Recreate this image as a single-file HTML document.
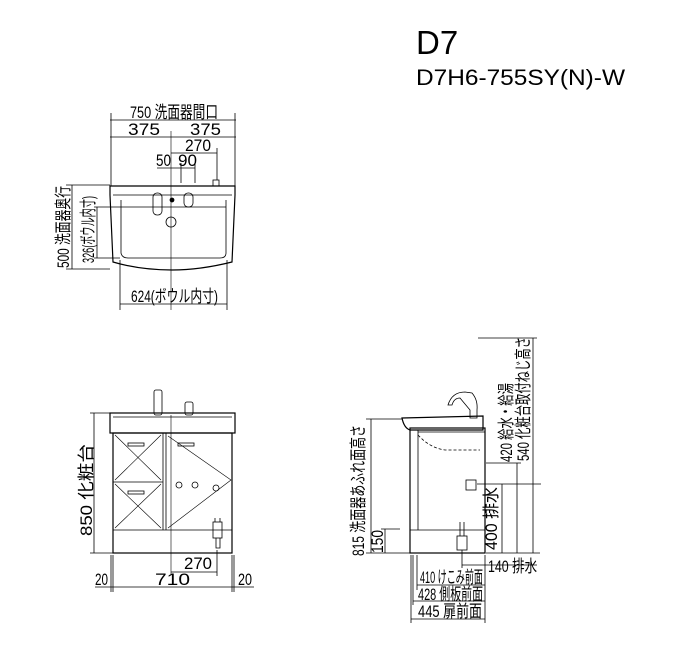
<!DOCTYPE html>
<html><head><meta charset="utf-8"><style>
html,body{margin:0;padding:0;background:#fff}
svg{display:block}
text{font-family:"Liberation Sans","Noto Sans CJK JP",sans-serif;fill:#000}
</style></head><body>
<svg width="700" height="660" viewBox="0 0 700 660" xmlns="http://www.w3.org/2000/svg">
<text x="416" y="54" font-size="33">D7</text>
<text x="416" y="85" font-size="22" textLength="209" lengthAdjust="spacingAndGlyphs">D7H6-755SY(N)-W</text>

<g stroke="#000" stroke-width="0.8" fill="none">
<line x1="110" y1="120" x2="236" y2="120"/>
<line x1="110" y1="137" x2="236" y2="137"/>
<line x1="171" y1="153" x2="217" y2="153"/>
<line x1="157" y1="168" x2="195" y2="168"/>
<line x1="111" y1="113" x2="111" y2="186"/>
<line x1="235" y1="113" x2="235" y2="186"/>
<line x1="171" y1="131" x2="171" y2="310" stroke-width="0.6"/>
<line x1="217" y1="148" x2="217" y2="180"/>
<line x1="181" y1="163" x2="181" y2="183"/>
<line x1="195" y1="163" x2="195" y2="183"/>
<path d="M110 186 L235 186 L235 195 L232 262 Q200 270 172 270 Q140 270 113 262 L110 195 Z" stroke-width="1.2"/>
<path d="M113 195 L232 195"/>
<path d="M121 200 L121 253 Q122 258 128 258 L220 258 Q226 258 226 253 L226 200"/>
<path d="M120 207 L226 207"/>
<rect x="153" y="193" width="9" height="22" rx="4"/>
<circle cx="171" cy="222" r="5"/>
<circle cx="172" cy="200" r="2" fill="#000"/>
<rect x="184" y="193" width="9" height="14" rx="4"/>
<rect x="213" y="180" width="6" height="6"/>
<line x1="72" y1="185" x2="72" y2="269"/>
<line x1="66" y1="185" x2="110" y2="185"/>
<line x1="66" y1="269" x2="110" y2="269"/>
<line x1="97" y1="207" x2="97" y2="258"/>
<line x1="94" y1="207" x2="120" y2="207"/>
<line x1="94" y1="258" x2="120" y2="258"/>
<line x1="120" y1="260" x2="120" y2="310"/>
<line x1="227" y1="260" x2="227" y2="310"/>
<line x1="120" y1="304" x2="227" y2="304"/>

<rect x="110" y="413" width="125" height="20" stroke-width="1.2"/>
<line x1="113" y1="417" x2="232" y2="417"/>
<rect x="113" y="433" width="119" height="120" stroke-width="1.2"/>
<line x1="113" y1="530" x2="232" y2="530"/>
<line x1="163" y1="433" x2="163" y2="530"/>
<line x1="166" y1="433" x2="166" y2="530"/>
<line x1="113" y1="482" x2="163" y2="482"/>
<path d="M115 435 L161 480 M161 435 L115 480 M115 484 L161 528 M161 484 L115 528" stroke-width="0.6"/>
<path d="M168 436 L231 480 L168 528" stroke-width="0.6"/>
<rect x="128" y="443" width="16" height="3"/>
<rect x="128" y="491" width="16" height="3"/>
<rect x="178" y="443" width="16" height="3"/>
<circle cx="179" cy="485" r="3"/><circle cx="195" cy="485" r="3"/><circle cx="216" cy="488" r="3"/>
<rect x="154" y="390" width="8" height="25" rx="2"/>
<rect x="185" y="402" width="8" height="13" rx="2"/>
<rect x="213" y="522" width="9" height="16"/>
<path d="M215 518 L215 522 M220 518 L220 522 M216 538 L216 548 L220 548 L220 538"/>
<line x1="94" y1="413" x2="94" y2="553"/>
<line x1="90" y1="413" x2="110" y2="413"/>
<line x1="90" y1="553" x2="113" y2="553"/>
<line x1="171" y1="415" x2="171" y2="575" stroke-width="0.6"/>
<line x1="171" y1="572" x2="217" y2="572"/>
<line x1="217" y1="550" x2="217" y2="576"/>
<line x1="111" y1="555" x2="111" y2="592"/><line x1="113" y1="555" x2="113" y2="592"/>
<line x1="232" y1="555" x2="232" y2="592"/><line x1="234" y1="555" x2="234" y2="592"/>
<line x1="95" y1="587" x2="254" y2="587"/>

<path d="M402 418 L483 416 L483 430 L410 430 Q404 428 402 418 Z" stroke-width="1.2"/>
<rect x="410" y="428" width="75" height="125" stroke-width="1.2"/>
<line x1="418" y1="430" x2="418" y2="530"/>
<line x1="410" y1="530" x2="485" y2="530"/>
<line x1="418" y1="432" x2="485" y2="432"/>
<path d="M418 435 Q430 448 445 450 L480 450" stroke-dasharray="3,2"/>
<path d="M448 405 Q452 392 465 392 L472 393 Q478 400 477 410 L477 418 L470 418 L470 410 L460 398 Q454 398 452 405 Z"/>
<rect x="466" y="480" width="10" height="10"/>
<rect x="457" y="536" width="10" height="14"/>
<path d="M460 522 L460 536 M464 522 L464 536"/>
<line x1="371" y1="419" x2="371" y2="553"/>
<line x1="366" y1="419" x2="402" y2="419"/>
<line x1="366" y1="553" x2="410" y2="553"/>
<line x1="385" y1="529" x2="385" y2="553"/>
<line x1="381" y1="529" x2="400" y2="529"/>
<line x1="486" y1="463" x2="521" y2="463"/>
<line x1="477" y1="484" x2="541" y2="484"/>
<line x1="478" y1="338" x2="537" y2="338"/>
<line x1="502" y1="484" x2="502" y2="553"/>
<line x1="517" y1="463" x2="517" y2="553"/>
<line x1="533" y1="338" x2="533" y2="553"/>
<line x1="486" y1="553" x2="540" y2="553"/>
<line x1="462" y1="550" x2="462" y2="568"/>
<line x1="462" y1="565" x2="537" y2="565"/>
<line x1="411" y1="555" x2="411" y2="623"/>
<line x1="413" y1="555" x2="413" y2="605"/>
<line x1="417" y1="555" x2="417" y2="590"/>
<line x1="485" y1="555" x2="485" y2="623"/>
<line x1="417" y1="585" x2="485" y2="585"/>
<line x1="413" y1="601" x2="485" y2="601"/>
<line x1="411" y1="619" x2="485" y2="619"/>
</g>

<g font-size="17">
<text x="130" y="118" textLength="88" lengthAdjust="spacingAndGlyphs">750 洗面器間口</text>
<text x="128" y="135" textLength="32" lengthAdjust="spacingAndGlyphs">375</text>
<text x="190" y="135" textLength="31" lengthAdjust="spacingAndGlyphs">375</text>
<text x="185" y="151" textLength="26" lengthAdjust="spacingAndGlyphs">270</text>
<text x="156" y="166" textLength="15" lengthAdjust="spacingAndGlyphs">50</text>
<text x="178" y="166" textLength="19" lengthAdjust="spacingAndGlyphs">90</text>
<text x="131" y="302" textLength="87" lengthAdjust="spacingAndGlyphs">624(ボウル内寸)</text>
<text transform="translate(69,268) rotate(-90)" textLength="82" lengthAdjust="spacingAndGlyphs">500 洗面器奥行</text>
<text transform="translate(94,263) rotate(-90)" textLength="67" lengthAdjust="spacingAndGlyphs">326(ボウル内寸)</text>
<text transform="translate(92,536) rotate(-90)" textLength="92" lengthAdjust="spacingAndGlyphs">850 化粧台</text>
<text x="184" y="569" textLength="28" lengthAdjust="spacingAndGlyphs">270</text>
<text x="95" y="585" textLength="13" lengthAdjust="spacingAndGlyphs">20</text>
<text x="155" y="585" textLength="35" lengthAdjust="spacingAndGlyphs">710</text>
<text x="238" y="585" textLength="14" lengthAdjust="spacingAndGlyphs">20</text>
<text transform="translate(364,556) rotate(-90)" textLength="131" lengthAdjust="spacingAndGlyphs">815 洗面器あふれ面高さ</text>
<text transform="translate(383,553) rotate(-90)" textLength="23" lengthAdjust="spacingAndGlyphs">150</text>
<text transform="translate(497,550) rotate(-90)" textLength="63" lengthAdjust="spacingAndGlyphs">400 排水</text>
<text transform="translate(512,462) rotate(-90)" textLength="79" lengthAdjust="spacingAndGlyphs">420 給水・給湯</text>
<text transform="translate(529,461) rotate(-90)" textLength="124" lengthAdjust="spacingAndGlyphs">540 化粧台取付ねじ高さ</text>
<text x="488" y="572" textLength="49" lengthAdjust="spacingAndGlyphs">140 排水</text>
<text x="420" y="583" textLength="63" lengthAdjust="spacingAndGlyphs">410 けこみ前面</text>
<text x="418" y="600" textLength="65" lengthAdjust="spacingAndGlyphs">428 側板前面</text>
<text x="418" y="617" textLength="64" lengthAdjust="spacingAndGlyphs">445 扉前面</text>
</g>
</svg>
</body></html>
